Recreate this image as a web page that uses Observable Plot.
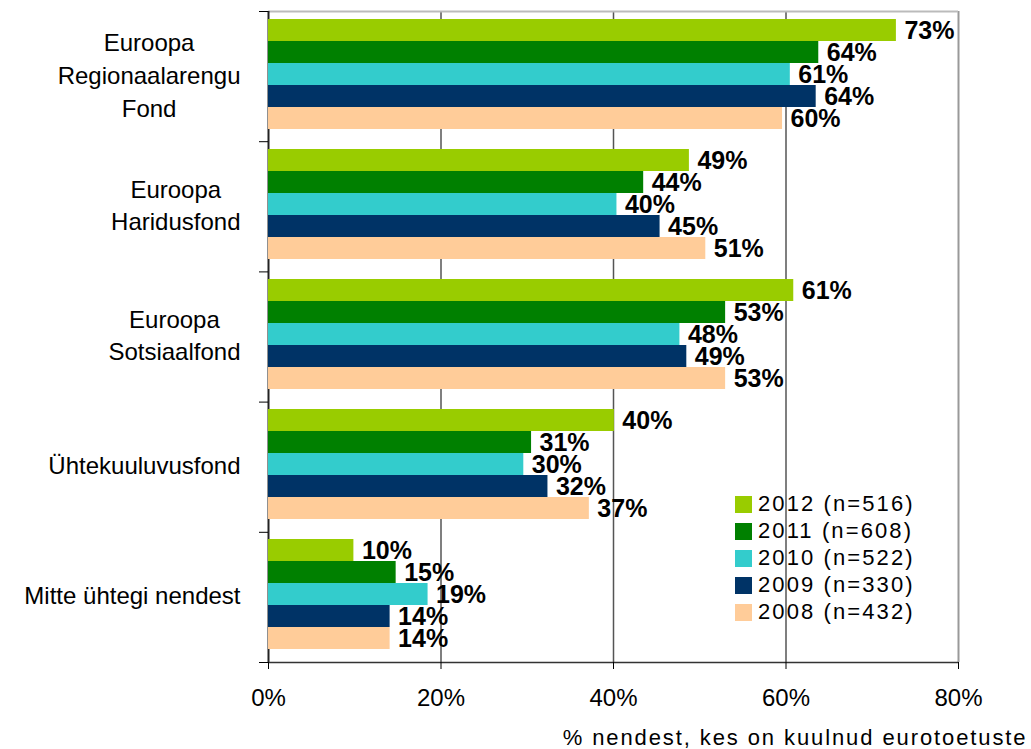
<!DOCTYPE html>
<html>
<head>
<meta charset="utf-8">
<script src="https://cdn.jsdelivr.net/npm/d3@7"></script>
<script src="https://cdn.jsdelivr.net/npm/@observablehq/plot@0.6"></script>
<style>
  html, body { margin: 0; padding: 0; background: #fff; }
  #wrap { position: relative; width: 1031px; height: 749px; overflow: hidden; font-family: "Liberation Sans", Arial, sans-serif; }
  #wrap svg { position: absolute; left: 0; top: 0; }
  .legend-row { position: absolute; left: 735px; height: 17px; }
  .legend-sw { position: absolute; left: 0; top: 0; width: 17px; height: 17px; }
  .legend-tx { position: absolute; left: 23px; top: -1px; line-height: 17px; font-size: 22px; letter-spacing: 2.1px; white-space: nowrap; color: #000; }
</style>
</head>
<body>
<div id="wrap"></div>
<script>
// ---- data ----
const categories = ["Euroopa Regionaalarengu Fond", "Euroopa Haridusfond", "Euroopa Sotsiaalfond", "Ühtekuuluvusfond", "Mitte ühtegi nendest"];
const categoryLabels = ["Euroopa\nRegionaalarengu\nFond", "Euroopa\nHaridusfond", "Euroopa\nSotsiaalfond", "Ühtekuuluvusfond", "Mitte ühtegi nendest"];
const years = ["2012", "2011", "2010", "2009", "2008"];
const legendLabels = ["2012 (n=516)", "2011 (n=608)", "2010 (n=522)", "2009 (n=330)", "2008 (n=432)"];
const colors = ["#99CC00", "#008000", "#33CCCC", "#003366", "#FFCC99"];
const values2012 = [72.8, 48.8, 60.9, 40.1, 9.9];
const values2011 = [63.8, 43.5, 53.0, 30.5, 14.8];
const values2010 = [60.5, 40.4, 47.7, 29.6, 18.5];
const values2009 = [63.5, 45.4, 48.5, 32.4, 14.1];
const values2008 = [59.6, 50.7, 53.0, 37.2, 14.1];
const xTicks = [0, 20, 40, 60, 80];
const xTitle = "% nendest, kes on kuulnud eurotoetuste";

const series = [values2012, values2011, values2010, values2009, values2008];
const data = [];
categories.forEach((c, ci) => {
  years.forEach((y, yi) => data.push({category: c, year: y, value: series[yi][ci]}));
});

const W = 1031, H = 749;
const M = {marginTop: 11, marginRight: 73, marginBottom: 87, marginLeft: 268};
const FONT = '"Liberation Sans", Arial, sans-serif';
const fmt = d3.format(".0f");

// ---- background: frame, grid, axes ----
const axes = Plot.plot({
  width: W, height: H, ...M,
  style: {fontFamily: FONT, fontSize: "24px", background: "white", color: "#000"},
  x: {domain: [0, 80], axis: null},
  y: {domain: [0, 5], axis: null},
  marks: [
    Plot.ruleX([20, 40, 60], {stroke: "#555", strokeWidth: 1.5}),
    Plot.ruleX([80], {stroke: "#999", strokeWidth: 2}),
    Plot.ruleY([5], {stroke: "#bbb", strokeWidth: 2}),
    Plot.ruleX([0], {stroke: "#222", strokeWidth: 2}),
    Plot.ruleY([0], {stroke: "#333", strokeWidth: 1.5}),
    Plot.axisY({ticks: [0, 1, 2, 3, 4, 5], tickSize: 9, tickFormat: () => "", label: null}),
    Plot.axisX({ticks: xTicks, tickSize: 7, tickPadding: 19, tickFormat: d => d + "%", label: null}),
    Plot.text([xTitle], {frameAnchor: "bottom-right", textAnchor: "end", lineAnchor: "bottom", dx: 69, dy: 82, fontSize: 22, fill: "#000"})
  ]
});

// ---- bars and labels ----
const bars = Plot.plot({
  width: W, height: H, ...M,
  style: {fontFamily: FONT, background: "transparent", color: "#000"},
  x: {domain: [0, 80], axis: null},
  y: {domain: years, axis: null, paddingInner: 0, paddingOuter: 0.38, align: 0.35},
  fy: {domain: categories, axis: null, padding: 0},
  color: {domain: years, range: colors},
  marks: [
    Plot.barX(data, {x: "value", y: "year", fy: "category", fill: "year"}),
    Plot.text(data, {x: "value", y: "year", fy: "category", text: d => fmt(d.value) + "%", textAnchor: "start", dx: 8, fontSize: 25, fontWeight: "bold", fill: "#000"}),
    Plot.text(categoryLabels, {fy: (d, i) => categories[i], text: d => d, frameAnchor: "left", textAnchor: "end", dx: -28, dy: -4, fontSize: 24, lineHeight: 1.36, fill: "#000"})
  ]
});

const wrap = document.getElementById("wrap");
wrap.appendChild(axes);
wrap.appendChild(bars);

// x title letter spacing (as in the reference)
axes.querySelectorAll("text").forEach(t => {
  if (t.textContent === xTitle) t.style.letterSpacing = "1.9px";
});

// center multi-line category labels within their own block (right edge kept)
bars.querySelectorAll("text").forEach(t => {
  const spans = t.querySelectorAll("tspan");
  if (spans.length > 1) {
    let maxW = 0;
    spans.forEach(s => { maxW = Math.max(maxW, s.getComputedTextLength()); });
    t.setAttribute("text-anchor", "middle");
    spans.forEach(s => s.setAttribute("x", -maxW / 2));
  }
});

// ---- legend ----
legendLabels.forEach((lab, i) => {
  const row = document.createElement("div");
  row.className = "legend-row";
  row.style.top = (496 + i * 27) + "px";
  const sw = document.createElement("div");
  sw.className = "legend-sw";
  sw.style.background = colors[i];
  const tx = document.createElement("div");
  tx.className = "legend-tx";
  tx.textContent = lab;
  row.appendChild(sw);
  row.appendChild(tx);
  wrap.appendChild(row);
});
</script>
</body>
</html>
